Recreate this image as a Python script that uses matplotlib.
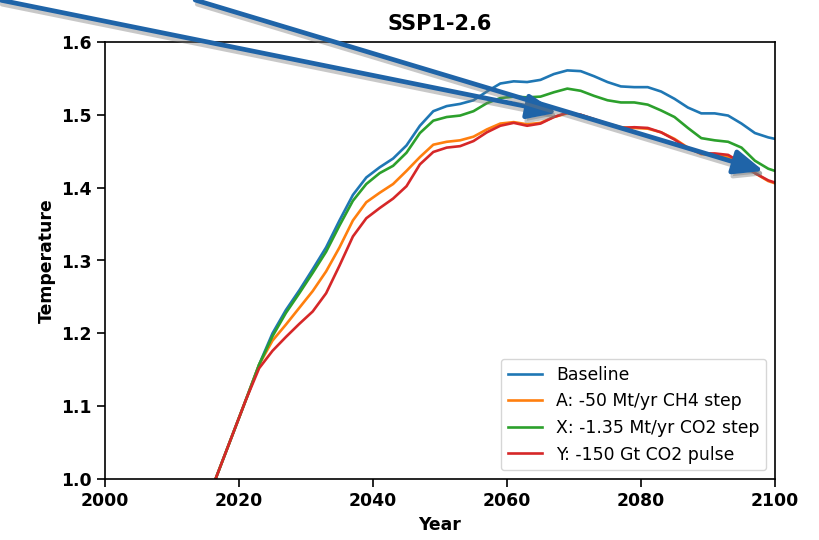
import matplotlib
matplotlib.use('Agg')
import matplotlib.pyplot as plt
import matplotlib.patheffects as pe
import numpy as np

# years
years = [2015, 2017, 2019, 2021, 2023, 2025, 2027, 2029, 2031, 2033, 2035, 2037, 2039,
         2041, 2043, 2045, 2047, 2049, 2051, 2053, 2055, 2057, 2059, 2061, 2063, 2065,
         2067, 2069, 2071, 2073, 2075, 2077, 2079, 2081, 2083, 2085, 2087, 2089, 2091,
         2093, 2095, 2097, 2099, 2100]

baseline = [0.964, 1.012, 1.060, 1.108, 1.157, 1.200, 1.232, 1.259, 1.288, 1.318, 1.355, 1.390, 1.414,
            1.428, 1.440, 1.458, 1.485, 1.505, 1.512, 1.515, 1.520, 1.532, 1.543, 1.546, 1.545, 1.548,
            1.556, 1.561, 1.560, 1.553, 1.545, 1.539, 1.538, 1.538, 1.532, 1.522, 1.510, 1.502, 1.502,
            1.499, 1.488, 1.475, 1.469, 1.467]
ch4_step = [0.964, 1.012, 1.060, 1.108, 1.157, 1.190, 1.212, 1.235, 1.258, 1.285, 1.318, 1.355, 1.380,
            1.393, 1.405, 1.423, 1.442, 1.459, 1.463, 1.465, 1.470, 1.480, 1.488, 1.490, 1.487, 1.489,
            1.497, 1.502, 1.500, 1.494, 1.488, 1.483, 1.482, 1.481, 1.476, 1.467, 1.455, 1.446, 1.445,
            1.442, 1.432, 1.420, 1.409, 1.406]
co2_step = [0.964, 1.012, 1.060, 1.108, 1.157, 1.196, 1.228, 1.255, 1.283, 1.312, 1.348, 1.382, 1.405,
            1.420, 1.430, 1.448, 1.475, 1.492, 1.497, 1.499, 1.505, 1.516, 1.523, 1.525, 1.524, 1.525,
            1.531, 1.536, 1.533, 1.526, 1.520, 1.517, 1.517, 1.514, 1.506, 1.497, 1.482, 1.468, 1.465,
            1.463, 1.455, 1.437, 1.426, 1.423]
co2_pulse = [0.964, 1.012, 1.060, 1.108, 1.152, 1.176, 1.195, 1.213, 1.230, 1.255, 1.293, 1.333, 1.358,
             1.372, 1.385, 1.402, 1.432, 1.449, 1.455, 1.457, 1.464, 1.476, 1.485, 1.489, 1.485, 1.488,
             1.497, 1.503, 1.500, 1.494, 1.487, 1.482, 1.483, 1.482, 1.476, 1.466, 1.454, 1.447, 1.447,
             1.445, 1.434, 1.420, 1.410, 1.407]

labels = ['Baseline', 'A: -50 Mt/yr CH4 step', 'X: -1.35 Mt/yr CO2 step', 'Y: -150 Gt CO2 pulse']
colors = ['#1f77b4', '#ff7f0e', '#2ca02c', '#d62728']

x_ticks = [2000, 2020, 2040, 2060, 2080, 2100]
y_ticks = [1.0, 1.1, 1.2, 1.3, 1.4, 1.5, 1.6]

# arrow tips (data) and tails (figure fraction)
arrow_tips = [(2067.5, 1.503), (2098.3, 1.423)]
arrow_tails = [(0.0, 1.0), (0.238, 1.0)]

fs = 12.4

fig = plt.figure(figsize=(8.2, 5.4), dpi=100)
ax = fig.add_axes([105 / 820, 61 / 540, 670 / 820, 437 / 540])

for ys, lab, c in zip([baseline, ch4_step, co2_step, co2_pulse], labels, colors):
    ax.plot(years, ys, color=c, linewidth=1.9, label=lab)

ax.set_xlim(2000, 2100)
ax.set_ylim(1.0, 1.6)
ax.set_xticks(x_ticks)
ax.set_xticklabels([str(t) for t in x_ticks], fontsize=fs, fontweight='bold')
ax.set_yticks(y_ticks)
ax.set_yticklabels(['%.1f' % t for t in y_ticks], fontsize=fs, fontweight='bold')
ax.tick_params(width=1.2, length=6)
for s in ax.spines.values():
    s.set_linewidth(1.2)

ax.set_xlabel('Year', fontsize=fs, fontweight='bold')
ax.set_ylabel('Temperature', fontsize=fs, fontweight='bold')
ax.set_title('SSP1-2.6', fontsize=15, fontweight='bold', pad=9)

ax.legend(loc='lower right', fontsize=fs)

shadow = [pe.SimpleLineShadow(offset=(1.5, -3), shadow_color='#777777', alpha=0.4),
          pe.SimplePatchShadow(offset=(1.5, -3), shadow_rgbFace='#777777', alpha=0.4),
          pe.Normal()]
for tip, tail in zip(arrow_tips, arrow_tails):
    ax.annotate('', xy=tip, xycoords='data', xytext=tail, textcoords='figure fraction',
                annotation_clip=False,
                arrowprops=dict(arrowstyle='-|>,head_length=0.6,head_width=0.25',
                                mutation_scale=30, color='#1f64a8', lw=3.4,
                                shrinkA=0, shrinkB=0, path_effects=shadow))

plt.savefig('out.png', dpi=100)
